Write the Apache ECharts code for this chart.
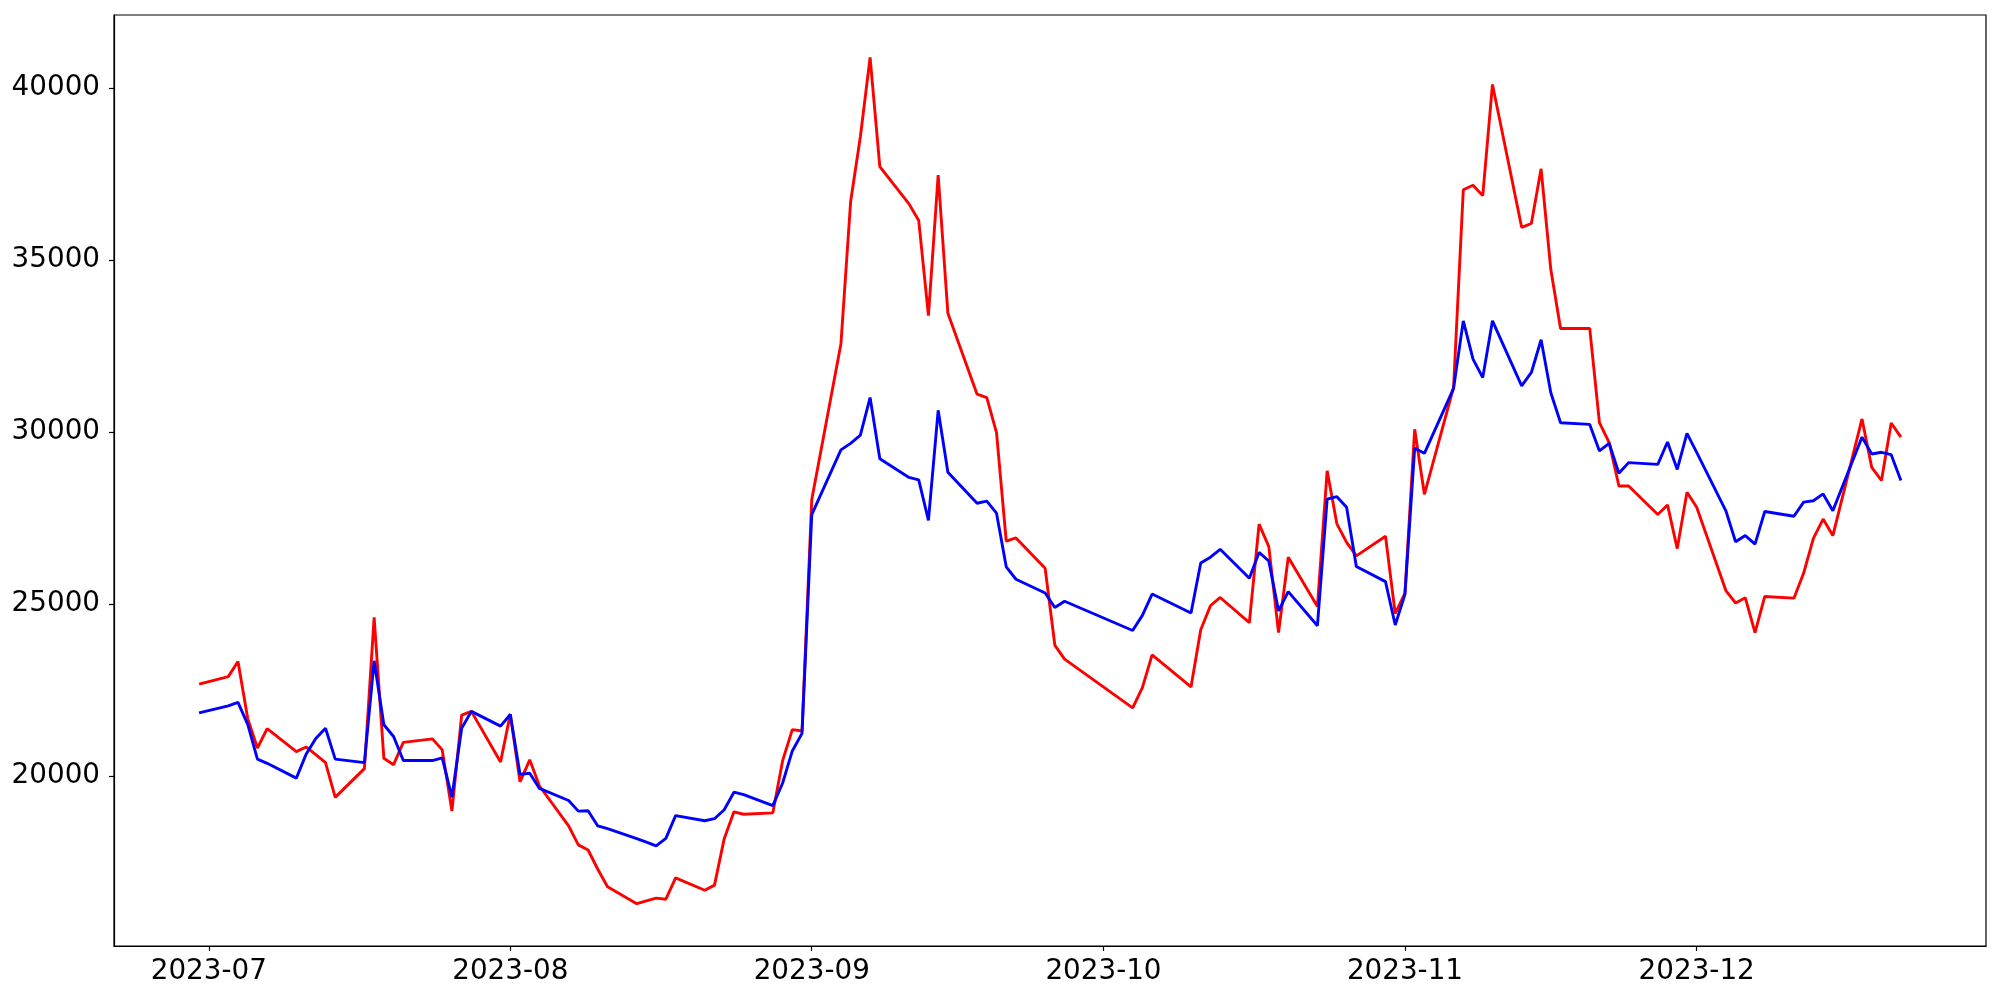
<!DOCTYPE html>
<html>
<head>
<meta charset="utf-8">
<title>chart</title>
<script src="https://cdn.jsdelivr.net/npm/echarts@6/dist/echarts.min.js"></script>
<style>
  html, body { margin: 0; padding: 0; background: #fff; }
  #chart { width: 2000px; height: 1000px; }
</style>
</head>
<body>
<div id="chart"></div>
<script>
// trading days (some gaps in late Sep / early Oct)
const dates = [
  '2023-06-30',
  '2023-07-03', '2023-07-04', '2023-07-05', '2023-07-06', '2023-07-07',
  '2023-07-10', '2023-07-11', '2023-07-12', '2023-07-13', '2023-07-14',
  '2023-07-17', '2023-07-18', '2023-07-19', '2023-07-20', '2023-07-21',
  '2023-07-24', '2023-07-25', '2023-07-26', '2023-07-27', '2023-07-28',
  '2023-07-31', '2023-08-01', '2023-08-02', '2023-08-03', '2023-08-04',
  '2023-08-07', '2023-08-08', '2023-08-09', '2023-08-10', '2023-08-11',
  '2023-08-14', '2023-08-15', '2023-08-16', '2023-08-17', '2023-08-18',
  '2023-08-21', '2023-08-22', '2023-08-23', '2023-08-24', '2023-08-25',
  '2023-08-28', '2023-08-29', '2023-08-30', '2023-08-31', '2023-09-01',
  '2023-09-04', '2023-09-05', '2023-09-06', '2023-09-07', '2023-09-08',
  '2023-09-11', '2023-09-12', '2023-09-13', '2023-09-14', '2023-09-15',
  '2023-09-18', '2023-09-19', '2023-09-20', '2023-09-21', '2023-09-22',
  '2023-09-25', '2023-09-26', '2023-09-27',
  '2023-10-04', '2023-10-05', '2023-10-06',
  '2023-10-10', '2023-10-11', '2023-10-12', '2023-10-13',
  '2023-10-16', '2023-10-17', '2023-10-18', '2023-10-19', '2023-10-20',
  '2023-10-23', '2023-10-24', '2023-10-25', '2023-10-26', '2023-10-27',
  '2023-10-30', '2023-10-31', '2023-11-01', '2023-11-02', '2023-11-03',
  '2023-11-06', '2023-11-07', '2023-11-08', '2023-11-09', '2023-11-10',
  '2023-11-13', '2023-11-14', '2023-11-15', '2023-11-16', '2023-11-17',
  '2023-11-20', '2023-11-21', '2023-11-22', '2023-11-23', '2023-11-24',
  '2023-11-27', '2023-11-28', '2023-11-29', '2023-11-30', '2023-12-01',
  '2023-12-04', '2023-12-05', '2023-12-06', '2023-12-07', '2023-12-08',
  '2023-12-11', '2023-12-12', '2023-12-13', '2023-12-14', '2023-12-15',
  '2023-12-18', '2023-12-19', '2023-12-20', '2023-12-21', '2023-12-22'
]

const redValues = [
  22670,
  22890, 23330, 21670, 20815, 21380,
  20710, 20845, 20620, 20390, 19380,
  20215, 24610, 20515, 20330, 20980,
  21080, 20760, 18980, 21770, 21880,
  20410, 21800, 19830, 20470, 19710,
  18550, 18000, 17850, 17290, 16780,
  16290, 16370, 16450, 16420, 17040,
  16680, 16830, 18180, 18960, 18890,
  18930, 20440, 21350, 21310, 28030,
  32560, 36700, 38580, 40890, 37710,
  36630, 36150, 33380, 37470, 33450,
  31100, 31000, 29980, 26830, 26920,
  26040, 23800, 23400,
  21980, 22570, 23520,
  22590, 24250, 24950, 25190,
  24460, 27320, 26670, 24170, 26360,
  24930, 28870, 27330, 26790, 26400,
  26970, 24720, 25320, 30080, 28190,
  31300, 37040, 37170, 36870, 40100,
  35950, 36060, 37650, 34720, 33010,
  33010, 30270, 29690, 28430, 28430,
  27600, 27880, 26610, 28250, 27810,
  25390, 25030, 25180, 24170, 25220,
  25170, 25900, 26910, 27470, 26990,
  30380, 28970, 28590, 30260, 29850
]

const blueValues = [
  21835,
  22040, 22140, 21500, 20490, 20370,
  19940, 20630, 21090, 21390, 20490,
  20390, 23350, 21490, 21150, 20450,
  20450, 20530, 19390, 21390, 21880,
  21450, 21790, 20050, 20080, 19640,
  19290, 18980, 18990, 18550, 18470,
  18180, 18080, 17970, 18190, 18850,
  18700, 18760, 19020, 19530, 19460,
  19140, 19790, 20730, 21240, 27600,
  29480, 29670, 29910, 31000, 29220,
  28680, 28610, 27430, 30630, 28830,
  27930, 27990, 27640, 26080, 25720,
  25320, 24900, 25080,
  24230, 24670, 25290,
  24740, 26190, 26360, 26590,
  25750, 26500, 26250, 24800, 25360,
  24370, 28050, 28120, 27810, 26090,
  25650, 24390, 25280, 29530, 29380,
  31270, 33230, 32120, 31580, 33230,
  31340, 31730, 32680, 31140, 30270,
  30220, 29450, 29670, 28800, 29110,
  29060, 29710, 28910, 29960, 29410,
  27710, 26810, 26990, 26740, 27690,
  27550, 27960, 28000, 28200, 27710,
  29850, 29360, 29410, 29340, 28590
]

const yTicks = [20000, 25000, 30000, 35000, 40000]
const monthTicks = ['2023-07-01', '2023-08-01', '2023-09-01', '2023-10-01', '2023-11-01', '2023-12-01']

// parse as local date so ticks and points line up
const toTime = s => {
  const [y, m, d] = s.split('-').map(Number)
  return new Date(y, m - 1, d).getTime()
}

const firstT = toTime(dates[0])
const lastT = toTime(dates[dates.length - 1])
const pad = (lastT - firstT) * 0.05

const fmtMonth = v => {
  const d = new Date(v)
  return d.getFullYear() + '-' + String(d.getMonth() + 1).padStart(2, '0')
}

const chart = echarts.init(document.getElementById('chart'), null, { renderer: 'canvas' })

const axisText = { color: '#000', fontSize: 27.8, fontFamily: 'DejaVu Sans' }

const option = {
  animation: false,
  backgroundColor: '#fff',
  grid: {
    left: 114,
    right: 14,
    top: 15,
    bottom: 54,
    show: true,
    borderColor: '#000',
    borderWidth: 1.2,
    backgroundColor: 'transparent'
  },
  // timestamps on a value axis, month labels placed by hand
  xAxis: {
    type: 'value',
    min: firstT - pad,
    max: lastT + pad,
    axisLine: { show: true, lineStyle: { color: '#000', width: 1.2 } },
    axisTick: {
      show: true,
      length: 5,
      lineStyle: { color: '#000', width: 1.2 },
      customValues: monthTicks.map(toTime)
    },
    axisLabel: {
      ...axisText,
      margin: 12,
      customValues: monthTicks.map(toTime),
      formatter: fmtMonth
    },
    splitLine: { show: false }
  },
  yAxis: {
    type: 'value',
    min: 15060,
    max: 42120,
    axisLine: { show: true, lineStyle: { color: '#000', width: 1.2 } },
    axisTick: {
      show: true,
      length: 5,
      lineStyle: { color: '#000', width: 1.2 },
      customValues: yTicks
    },
    axisLabel: {
      ...axisText,
      margin: 14,
      customValues: yTicks,
      formatter: v => String(v)
    },
    splitLine: { show: false }
  },
  series: [
    {
      name: 'red',
      type: 'line',
      data: dates.map((d, i) => [toTime(d), redValues[i]]),
      showSymbol: false,
      lineStyle: { color: '#ff0000', width: 2.9 },
      itemStyle: { color: '#ff0000' },
      z: 2
    },
    {
      name: 'blue',
      type: 'line',
      data: dates.map((d, i) => [toTime(d), blueValues[i]]),
      showSymbol: false,
      lineStyle: { color: '#0000ff', width: 2.9 },
      itemStyle: { color: '#0000ff' },
      z: 3
    }
  ]
}

chart.setOption(option)
</script>
</body>
</html>
